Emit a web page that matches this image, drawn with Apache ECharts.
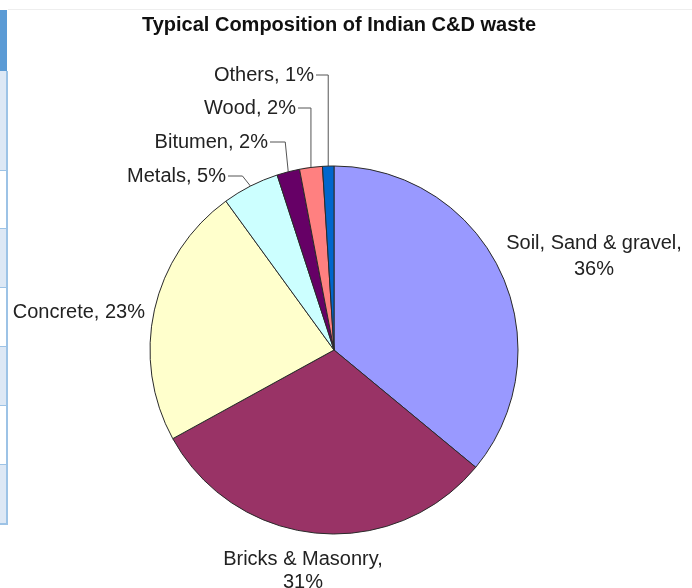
<!DOCTYPE html>
<html><head><meta charset="utf-8">
<script src="https://cdn.jsdelivr.net/npm/echarts@6/dist/echarts.min.js"></script>
<style>html,body{margin:0;padding:0;background:#fff}#c{width:692px;height:588px}</style>
</head><body><div id="c"></div>
<script>
const categories = ['Soil, Sand & gravel', 'Bricks & Masonry', 'Concrete', 'Metals', 'Bitumen', 'Wood', 'Others'];
const values = [36, 31, 23, 5, 2, 2, 1];
const colors = ['#9999FF', '#993366', '#FFFFCC', '#CCFFFF', '#660066', '#FF8080', '#0066CC'];

const CX = 334, CY = 350, R = 184;
const labelPlace = [
  {x: 594, y: 256, align: 'center', lh: 26},
  {x: 303, y: 571, align: 'center', lh: 23},
  {x: 145, y: 312, align: 'right'},
  {x: 226, y: 176, align: 'right', elbowDx: -8},
  {x: 268, y: 142, align: 'right', elbowDx: -3},
  {x: 296, y: 108, align: 'right', elbowDx: 0},
  {x: 314, y: 75, align: 'right', elbowDx: 0}
];
const total = values.reduce((a, b) => a + b, 0);
function edgePoint(i) {
  let before = 0;
  for (let k = 0; k < i; k++) before += values[k];
  const th = (before + values[i] / 2) / total * Math.PI * 2;
  return [CX + R * Math.sin(th), CY - R * Math.cos(th)];
}

const chart = echarts.init(document.getElementById('c'), null, {renderer: 'canvas'});
const stripCells = [];
const bounds = [71, 171, 229, 288, 347, 406, 465, 524];
for (let i = 0; i < bounds.length - 1; i++) {
  stripCells.push({type: 'rect', shape: {x: 0, y: bounds[i], width: 7, height: bounds[i + 1] - bounds[i]},
    style: {fill: i % 2 === 0 ? '#DDE8F5' : '#FFFFFF'}});
  stripCells.push({type: 'line', shape: {x1: 0, y1: bounds[i + 1], x2: 8, y2: bounds[i + 1]},
    style: {stroke: '#9DC3E6', lineWidth: 2}});
}
chart.setOption({
  backgroundColor: '#ffffff',
  animation: false,
  title: {
    text: 'Typical Composition of Indian C&D waste',
    left: 334, top: 10, textAlign: 'center',
    textStyle: {fontFamily: 'Liberation Sans, Arial, sans-serif', fontSize: 20, fontWeight: 'bold', color: '#111'}
  },
  graphic: [
    {type: 'line', shape: {x1: 8, y1: 9.5, x2: 692, y2: 9.5}, style: {stroke: '#EEEEEE', lineWidth: 1}},
    {type: 'rect', shape: {x: 0, y: 10, width: 7, height: 61}, style: {fill: '#5B9BD5'}},
    ...stripCells,
    {type: 'line', shape: {x1: 7, y1: 71, x2: 7, y2: 525}, style: {stroke: '#9DC3E6', lineWidth: 2}}
  ],
  series: [{
    type: 'pie',
    center: [CX, CY],
    radius: R,
    startAngle: 90,
    clockwise: true,
    color: colors,
    itemStyle: {borderColor: '#2a2a2a', borderWidth: 1},
    emphasis: {disabled: true},
    label: {
      show: true,
      position: 'outside',
      overflow: 'none',
      edgeDistance: 0,
      bleedMargin: 0,
      fontFamily: 'Liberation Sans, Arial, sans-serif',
      fontSize: 20,
      lineHeight: 25,
      color: '#222',
      formatter: p => p.dataIndex <= 1 ? p.name + ',\n' + p.value + '%' : p.name + ', ' + p.value + '%'
    },
    labelLine: {show: true, length: 5, length2: 5, smooth: false, lineStyle: {color: '#555', width: 1}},
    labelLayout: function (params) {
      const i = params.dataIndex;
      const lp = labelPlace[i];
      const out = {x: lp.x, y: lp.y, align: lp.align, verticalAlign: 'middle'};
      if (lp.elbowDx !== undefined) {
        const e = edgePoint(i);
        out.labelLinePoints = [[e[0], e[1]], [e[0] + lp.elbowDx, lp.y], [lp.x + 2, lp.y]];
      } else {
        out.labelLinePoints = [[0, 0], [0, 0], [0, 0]];
      }
      return out;
    },
    data: categories.map((c, i) => ({
      name: c, value: values[i],
      label: labelPlace[i].lh ? {lineHeight: labelPlace[i].lh} : undefined,
      labelLine: {show: i >= 3}
    }))
  }]
});
</script></body></html>
